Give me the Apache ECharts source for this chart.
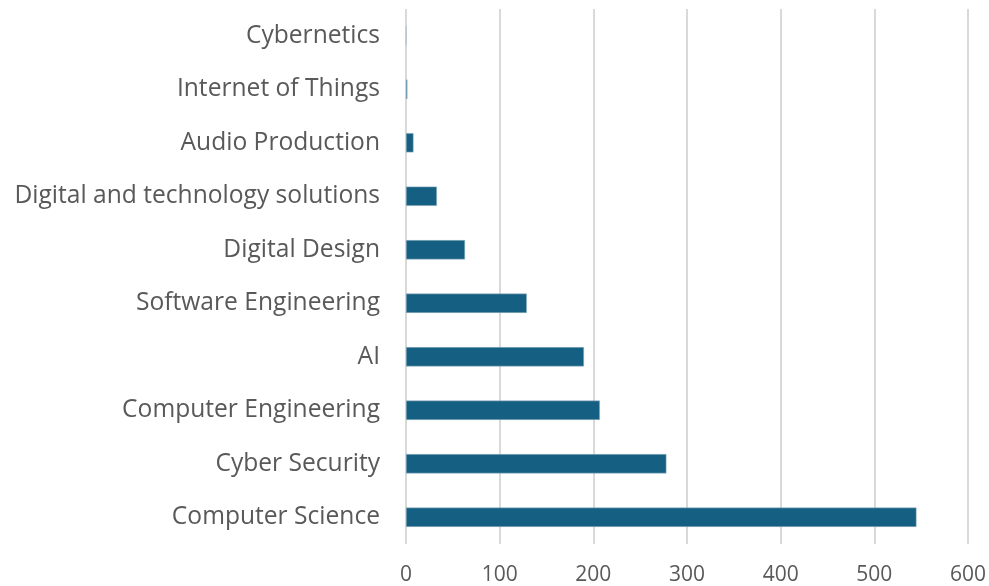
<!DOCTYPE html>
<html lang="en">
<head>
    <meta charset="UTF-8">
    <title>Programmes</title>
    <script src="https://cdn.jsdelivr.net/npm/echarts@6/dist/echarts.min.js"></script>
    <style>
        html, body { margin: 0; padding: 0; background: #fff; }
    </style>
</head>
<body>
<div id='box' style="width: 989px;height:586px;"></div>
<script>
    // categories from bottom to top (category axis starts at the bottom)
    var subjects = ['Computer Science', 'Cyber Security', 'Computer Engineering', 'AI', 'Software Engineering',
        'Digital Design', 'Digital and technology solutions', 'Audio Production', 'Internet of Things', 'Cybernetics'];
    var counts = [545, 278, 207, 190, 129, 63, 33, 8, 1.5, 0.4];
    var xTicks = [0, 100, 200, 300, 400, 500, 600];

    var labelFont = "'Open Sans', 'Liberation Sans', sans-serif";
    var myChart = echarts.init(document.getElementById('box'));
    var option = {
        animation: false,
        grid: {
            left: 406,
            right: 21,
            top: 9,
            bottom: 42
        },
        xAxis: {
            type: 'value',
            min: xTicks[0],
            max: xTicks[xTicks.length - 1],
            interval: 100,
            axisLine: { show: false },
            axisTick: { show: false },
            splitLine: {
                lineStyle: { color: '#d9d9d9', width: 2 }
            },
            axisLabel: {
                color: '#595959',
                fontSize: 21,
                fontFamily: labelFont,
                margin: 21
            }
        },
        yAxis: {
            type: 'category',
            data: subjects,
            axisLine: { show: false },
            axisTick: { show: false },
            axisLabel: {
                color: '#595959',
                fontSize: 24.6,
                fontFamily: labelFont,
                margin: 26
            }
        },
        series: [
            {
                type: 'bar',
                data: counts,
                barCategoryGap: '64%',
                itemStyle: {
                    color: '#156082',
                    borderColor: '#9fb8c6',
                    borderWidth: 0.5
                }
            }
        ]
    };
    myChart.setOption(option);
</script>
</body>
</html>
